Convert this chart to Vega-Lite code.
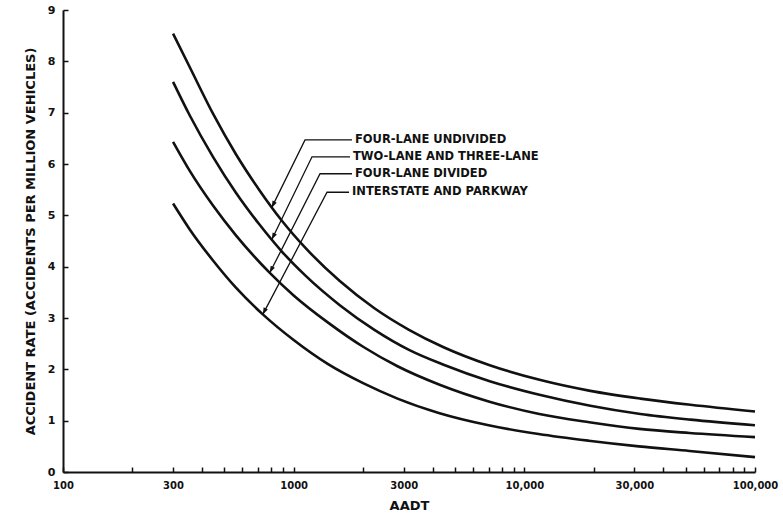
{
  "$schema": "https://vega.github.io/schema/vega-lite/v6.json",
  "width": 692,
  "height": 462,
  "autosize": {"type": "none"},
  "padding": {"left": 63, "top": 10, "right": 28, "bottom": 47},
  "background": "white",
  "config": {"view": {"stroke": null}, "font": "DejaVu Sans"},
  "datasets": {
    "curves": [
      {"road": "FOUR-LANE UNDIVIDED", "aadt": 300, "rate": 8.54},
      {"road": "FOUR-LANE UNDIVIDED", "aadt": 355, "rate": 7.88},
      {"road": "FOUR-LANE UNDIVIDED", "aadt": 447, "rate": 6.98},
      {"road": "FOUR-LANE UNDIVIDED", "aadt": 562, "rate": 6.19},
      {"road": "FOUR-LANE UNDIVIDED", "aadt": 708, "rate": 5.50},
      {"road": "FOUR-LANE UNDIVIDED", "aadt": 891, "rate": 4.89},
      {"road": "FOUR-LANE UNDIVIDED", "aadt": 1122, "rate": 4.37},
      {"road": "FOUR-LANE UNDIVIDED", "aadt": 1585, "rate": 3.72},
      {"road": "FOUR-LANE UNDIVIDED", "aadt": 2239, "rate": 3.19},
      {"road": "FOUR-LANE UNDIVIDED", "aadt": 3162, "rate": 2.77},
      {"road": "FOUR-LANE UNDIVIDED", "aadt": 4467, "rate": 2.43},
      {"road": "FOUR-LANE UNDIVIDED", "aadt": 7079, "rate": 2.08},
      {"road": "FOUR-LANE UNDIVIDED", "aadt": 11750, "rate": 1.79},
      {"road": "FOUR-LANE UNDIVIDED", "aadt": 19320, "rate": 1.58},
      {"road": "FOUR-LANE UNDIVIDED", "aadt": 31840, "rate": 1.43},
      {"road": "FOUR-LANE UNDIVIDED", "aadt": 52480, "rate": 1.31},
      {"road": "FOUR-LANE UNDIVIDED", "aadt": 100000, "rate": 1.18},
      {"road": "TWO-LANE AND THREE-LANE", "aadt": 300, "rate": 7.60},
      {"road": "TWO-LANE AND THREE-LANE", "aadt": 355, "rate": 6.94},
      {"road": "TWO-LANE AND THREE-LANE", "aadt": 447, "rate": 6.14},
      {"road": "TWO-LANE AND THREE-LANE", "aadt": 562, "rate": 5.44},
      {"road": "TWO-LANE AND THREE-LANE", "aadt": 708, "rate": 4.83},
      {"road": "TWO-LANE AND THREE-LANE", "aadt": 891, "rate": 4.29},
      {"road": "TWO-LANE AND THREE-LANE", "aadt": 1122, "rate": 3.83},
      {"road": "TWO-LANE AND THREE-LANE", "aadt": 1585, "rate": 3.25},
      {"road": "TWO-LANE AND THREE-LANE", "aadt": 2239, "rate": 2.77},
      {"road": "TWO-LANE AND THREE-LANE", "aadt": 3162, "rate": 2.38},
      {"road": "TWO-LANE AND THREE-LANE", "aadt": 4467, "rate": 2.09},
      {"road": "TWO-LANE AND THREE-LANE", "aadt": 7079, "rate": 1.77},
      {"road": "TWO-LANE AND THREE-LANE", "aadt": 11750, "rate": 1.50},
      {"road": "TWO-LANE AND THREE-LANE", "aadt": 19320, "rate": 1.29},
      {"road": "TWO-LANE AND THREE-LANE", "aadt": 31840, "rate": 1.13},
      {"road": "TWO-LANE AND THREE-LANE", "aadt": 52480, "rate": 1.02},
      {"road": "TWO-LANE AND THREE-LANE", "aadt": 100000, "rate": 0.91},
      {"road": "FOUR-LANE DIVIDED", "aadt": 300, "rate": 6.43},
      {"road": "FOUR-LANE DIVIDED", "aadt": 355, "rate": 5.86},
      {"road": "FOUR-LANE DIVIDED", "aadt": 447, "rate": 5.19},
      {"road": "FOUR-LANE DIVIDED", "aadt": 562, "rate": 4.61},
      {"road": "FOUR-LANE DIVIDED", "aadt": 788, "rate": 3.88},
      {"road": "FOUR-LANE DIVIDED", "aadt": 1000, "rate": 3.44},
      {"road": "FOUR-LANE DIVIDED", "aadt": 1410, "rate": 2.91},
      {"road": "FOUR-LANE DIVIDED", "aadt": 2000, "rate": 2.44},
      {"road": "FOUR-LANE DIVIDED", "aadt": 2820, "rate": 2.06},
      {"road": "FOUR-LANE DIVIDED", "aadt": 4293, "rate": 1.70},
      {"road": "FOUR-LANE DIVIDED", "aadt": 7063, "rate": 1.37},
      {"road": "FOUR-LANE DIVIDED", "aadt": 11610, "rate": 1.13},
      {"road": "FOUR-LANE DIVIDED", "aadt": 19120, "rate": 0.97},
      {"road": "FOUR-LANE DIVIDED", "aadt": 31520, "rate": 0.84},
      {"road": "FOUR-LANE DIVIDED", "aadt": 52000, "rate": 0.76},
      {"road": "FOUR-LANE DIVIDED", "aadt": 100000, "rate": 0.68},
      {"road": "INTERSTATE AND PARKWAY", "aadt": 300, "rate": 5.23},
      {"road": "INTERSTATE AND PARKWAY", "aadt": 355, "rate": 4.72},
      {"road": "INTERSTATE AND PARKWAY", "aadt": 447, "rate": 4.12},
      {"road": "INTERSTATE AND PARKWAY", "aadt": 562, "rate": 3.59},
      {"road": "INTERSTATE AND PARKWAY", "aadt": 735, "rate": 3.07},
      {"road": "INTERSTATE AND PARKWAY", "aadt": 1000, "rate": 2.57},
      {"road": "INTERSTATE AND PARKWAY", "aadt": 1410, "rate": 2.10},
      {"road": "INTERSTATE AND PARKWAY", "aadt": 2000, "rate": 1.73},
      {"road": "INTERSTATE AND PARKWAY", "aadt": 2820, "rate": 1.43},
      {"road": "INTERSTATE AND PARKWAY", "aadt": 4256, "rate": 1.15},
      {"road": "INTERSTATE AND PARKWAY", "aadt": 7002, "rate": 0.91},
      {"road": "INTERSTATE AND PARKWAY", "aadt": 11530, "rate": 0.74},
      {"road": "INTERSTATE AND PARKWAY", "aadt": 19010, "rate": 0.61},
      {"road": "INTERSTATE AND PARKWAY", "aadt": 31350, "rate": 0.50},
      {"road": "INTERSTATE AND PARKWAY", "aadt": 52000, "rate": 0.41},
      {"road": "INTERSTATE AND PARKWAY", "aadt": 100000, "rate": 0.29}
    ],
    "leaders": [
      {"road": "FOUR-LANE UNDIVIDED", "seq": 1, "aadt": 1790, "rate": 6.47},
      {"road": "FOUR-LANE UNDIVIDED", "seq": 2, "aadt": 1120, "rate": 6.47},
      {"road": "FOUR-LANE UNDIVIDED", "seq": 3, "aadt": 803, "rate": 5.15},
      {"road": "TWO-LANE AND THREE-LANE", "seq": 1, "aadt": 1755, "rate": 6.14},
      {"road": "TWO-LANE AND THREE-LANE", "seq": 2, "aadt": 1201, "rate": 6.14},
      {"road": "TWO-LANE AND THREE-LANE", "seq": 3, "aadt": 804, "rate": 4.53},
      {"road": "FOUR-LANE DIVIDED", "seq": 1, "aadt": 1790, "rate": 5.81},
      {"road": "FOUR-LANE DIVIDED", "seq": 2, "aadt": 1301, "rate": 5.81},
      {"road": "FOUR-LANE DIVIDED", "seq": 3, "aadt": 788, "rate": 3.88},
      {"road": "INTERSTATE AND PARKWAY", "seq": 1, "aadt": 1738, "rate": 5.45},
      {"road": "INTERSTATE AND PARKWAY", "seq": 2, "aadt": 1395, "rate": 5.45},
      {"road": "INTERSTATE AND PARKWAY", "seq": 3, "aadt": 735, "rate": 3.07}
    ]
  },
  "layer": [
    {
      "data": {"name": "curves"},
      "mark": {"type": "line", "color": "#111111", "strokeWidth": 2.6, "interpolate": "monotone"},
      "encoding": {
        "x": {
          "field": "aadt", "type": "quantitative",
          "scale": {"type": "log", "domain": [100, 100000]},
          "axis": {
            "title": "AADT",
            "values": [100, 200, 300, 400, 500, 600, 700, 800, 900, 1000, 2000, 3000, 4000, 5000, 6000, 7000, 8000, 9000, 10000, 20000, 30000, 40000, 50000, 60000, 70000, 80000, 90000, 100000],
            "labelExpr": "indexof([100, 300, 1000, 3000, 10000, 30000, 100000], datum.value) >= 0 ? (datum.value >= 10000 ? format(datum.value, ',') : format(datum.value, 'd')) : ''",
            "labelOverlap": false,
            "labelFlush": false,
            "grid": false,
            "domainColor": "#111111", "domainWidth": 2,
            "tickColor": "#111111", "tickWidth": 1.5, "tickSize": -5,
            "labelPadding": 13,
            "labelFont": "DejaVu Sans", "labelFontWeight": "bold", "labelFontSize": 10, "labelColor": "#111111",
            "titleFont": "DejaVu Sans", "titleFontWeight": "bold", "titleFontSize": 13, "titleColor": "#111111",
            "titlePadding": 9
          }
        },
        "y": {
          "field": "rate", "type": "quantitative",
          "scale": {"domain": [0, 9]},
          "axis": {
            "title": "ACCIDENT RATE (ACCIDENTS PER MILLION VEHICLES)",
            "values": [0, 1, 2, 3, 4, 5, 6, 7, 8, 9],
            "format": "d",
            "grid": false,
            "domainColor": "#111111", "domainWidth": 2,
            "tickColor": "#111111", "tickWidth": 1.5, "tickSize": -5,
            "labelPadding": 13,
            "labelFont": "DejaVu Sans", "labelFontWeight": "bold", "labelFontSize": 11, "labelColor": "#111111",
            "titleFont": "DejaVu Sans", "titleFontWeight": "bold", "titleFontSize": 13, "titleColor": "#111111",
            "titlePadding": 10
          }
        },
        "detail": {"field": "road"}
      }
    },
    {
      "data": {"name": "leaders"},
      "mark": {"type": "line", "color": "#111111", "strokeWidth": 1.3},
      "encoding": {
        "x": {"field": "aadt", "type": "quantitative"},
        "y": {"field": "rate", "type": "quantitative"},
        "detail": {"field": "road"},
        "order": {"field": "seq"}
      }
    },
    {
      "data": {"name": "leaders"},
      "transform": [{"filter": "datum.seq == 3"}],
      "mark": {"type": "point", "shape": "M0,0L-0.35,-1L0.35,-1Z", "filled": true, "color": "#111111", "opacity": 1, "size": 180, "angle": 26},
      "encoding": {
        "x": {"field": "aadt", "type": "quantitative"},
        "y": {"field": "rate", "type": "quantitative"}
      }
    },
    {
      "data": {"name": "leaders"},
      "transform": [{"filter": "datum.seq == 1"}],
      "mark": {"type": "text", "align": "left", "baseline": "middle", "dx": 3, "font": "DejaVu Sans", "fontSize": 11.5, "fontWeight": "bold", "color": "#111111"},
      "encoding": {
        "x": {"field": "aadt", "type": "quantitative"},
        "y": {"field": "rate", "type": "quantitative"},
        "text": {"field": "road"}
      }
    }
  ]
}
